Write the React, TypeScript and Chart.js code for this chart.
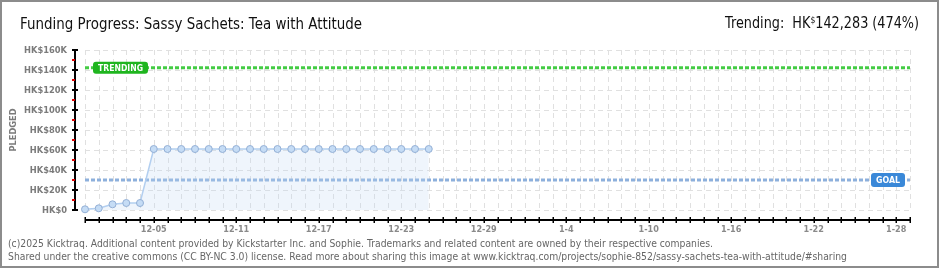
import { useEffect, useRef } from 'react';
import { Chart, registerables } from 'chart.js';

Chart.register(...registerables);

// ---- data ----
const dayLabels = [
  '11-30',
  '12-01', '12-02', '12-03', '12-04', '12-05', '12-06', '12-07', '12-08', '12-09', '12-10',
  '12-11', '12-12', '12-13', '12-14', '12-15', '12-16', '12-17', '12-18', '12-19', '12-20',
  '12-21', '12-22', '12-23', '12-24', '12-25', '12-26', '12-27', '12-28', '12-29', '12-30', '12-31',
  '1-1', '1-2', '1-3', '1-4', '1-5', '1-6', '1-7', '1-8', '1-9', '1-10',
  '1-11', '1-12', '1-13', '1-14', '1-15', '1-16', '1-17', '1-18', '1-19', '1-20',
  '1-21', '1-22', '1-23', '1-24', '1-25', '1-26', '1-27', '1-28', '1-29',
];
const pledgedValues = [
  700, 1700, 5700, 7000, 7000,
  61000, 61000, 61000, 61000, 61000, 61000, 61000, 61000, 61000, 61000, 61000,
  61000, 61000, 61000, 61000, 61000, 61000, 61000, 61000, 61000, 61000,
];
const goalValue = 30000;
const trendingValue = 142283;
const yTickValues = [0, 20000, 40000, 60000, 80000, 100000, 120000, 140000, 160000];
const yTickLabels = ['HK$0', 'HK$20K', 'HK$40K', 'HK$60K', 'HK$80K', 'HK$100K', 'HK$120K', 'HK$140K', 'HK$160K'];
const yMinorValues = [10000, 30000, 50000, 70000, 90000, 110000, 130000, 150000];
const xLabelDays = ['12-05', '12-11', '12-17', '12-23', '12-29', '1-4', '1-10', '1-16', '1-22', '1-28'];

const titleText = 'Funding Progress: Sassy Sachets: Tea with Attitude';
const trendPrefix = 'Trending:  HK';
const trendCurrency = '$';
const trendSuffix = '142,283 (474%)';
const footer1 = '(c)2025 Kicktraq. Additional content provided by Kickstarter Inc. and Sophie. Trademarks and related content are owned by their respective companies.';
const footer2 = 'Shared under the creative commons (CC BY-NC 3.0) license. Read more about sharing this image at www.kicktraq.com/projects/sophie-852/sassy-sachets-tea-with-attitude/#sharing';

const FONT = '"DejaVu Sans"';

function scaleFor(ctx: CanvasRenderingContext2D, text: string, font: string, w: number) {
  ctx.font = font;
  return w / ctx.measureText(text).width;
}

function drawScaled(
  ctx: CanvasRenderingContext2D, text: string, x: number, y: number, sx: number,
  font: string, color: string, align: 'left' | 'right' | 'center' = 'left'
) {
  ctx.save();
  ctx.font = font;
  ctx.fillStyle = color;
  ctx.textBaseline = 'alphabetic';
  ctx.textAlign = 'left';
  const w = ctx.measureText(text).width * sx;
  let x0 = x;
  if (align === 'right') x0 = x - w;
  if (align === 'center') x0 = x - w / 2;
  ctx.translate(x0, y);
  ctx.scale(sx, 1);
  ctx.fillText(text, 0, 0);
  ctx.restore();
}

function line(ctx: CanvasRenderingContext2D, x1: number, y1: number, x2: number, y2: number) {
  ctx.beginPath();
  ctx.moveTo(x1, y1);
  ctx.lineTo(x2, y2);
  ctx.stroke();
}

const decor = {
  id: 'decor',
  beforeDraw(chart: any) {
    const ctx: CanvasRenderingContext2D = chart.ctx;
    const xs = chart.scales.x;
    const ys = chart.scales.y;
    const { top, bottom, left, right } = chart.chartArea;
    ctx.save();
    ctx.fillStyle = '#ffffff';
    ctx.fillRect(0, 0, chart.width, chart.height);
    ctx.strokeStyle = '#e0e0e0';
    ctx.lineWidth = 1;
    ctx.setLineDash([5, 4]);
    for (let i = 0; i < dayLabels.length; i++) {
      const px = Math.round(xs.getPixelForValue(i)) + 0.5;
      line(ctx, px, top, px, bottom);
    }
    for (const v of yTickValues) {
      const py = Math.round(ys.getPixelForValue(v)) + 0.5;
      line(ctx, left, py, right, py);
    }
    ctx.restore();
  },
  afterDraw(chart: any) {
    const ctx: CanvasRenderingContext2D = chart.ctx;
    const xs = chart.scales.x;
    const ys = chart.scales.y;
    const { top, bottom, left, right } = chart.chartArea;
    ctx.save();
    ctx.setLineDash([]);

    // y axis
    const ax = left - 10;
    ctx.strokeStyle = '#000';
    ctx.lineWidth = 2;
    line(ctx, ax, top - 1, ax, bottom + 1);
    ctx.strokeStyle = '#e00000';
    for (const v of yMinorValues) {
      const py = Math.round(ys.getPixelForValue(v));
      line(ctx, ax - 3, py, ax, py);
    }
    ctx.strokeStyle = '#000';
    for (const v of yTickValues) {
      const py = Math.round(ys.getPixelForValue(v));
      line(ctx, ax - 3, py, ax + 3, py);
    }
    const yFont = `bold 9px ${FONT}`;
    const ySx = scaleFor(ctx, 'HK$160K', yFont, 43);
    yTickValues.forEach((v, i) => {
      const py = ys.getPixelForValue(v);
      drawScaled(ctx, yTickLabels[i], ax - 8, py + 3.4, ySx, yFont, '#7b7b7b', 'right');
    });
    // y title
    const tFont = `bold 9px ${FONT}`;
    const tSx = scaleFor(ctx, 'PLEDGED', tFont, 43);
    ctx.save();
    ctx.translate(16, (top + bottom) / 2);
    ctx.rotate(-Math.PI / 2);
    drawScaled(ctx, 'PLEDGED', 0, 0, tSx, tFont, '#7b7b7b', 'center');
    ctx.restore();

    // x axis
    const ay = bottom + 10;
    ctx.strokeStyle = '#000';
    ctx.lineWidth = 2;
    line(ctx, left, ay, right, ay);
    ctx.lineWidth = 1.5;
    for (let i = 0; i < dayLabels.length; i++) {
      const px = Math.round(xs.getPixelForValue(i)) + 0.25;
      line(ctx, px, ay - 3, px, ay + 3);
    }
    const xFont = `bold 9px ${FONT}`;
    const xSx = scaleFor(ctx, '12-05', xFont, 26);
    for (const lab of xLabelDays) {
      const idx = dayLabels.indexOf(lab);
      const px = xs.getPixelForValue(idx);
      drawScaled(ctx, lab, px, ay + 12, xSx, xFont, '#8a8a8a', 'center');
    }

    // TRENDING badge
    const tyPx = ys.getPixelForValue(trendingValue);
    ctx.fillStyle = '#1fb51f';
    ctx.beginPath();
    (ctx as any).roundRect(left + 8, tyPx - 6, 55, 12, 3);
    ctx.fill();
    const bFont = `bold 9px ${FONT}`;
    const bSx = scaleFor(ctx, 'TRENDING', bFont, 45);
    drawScaled(ctx, 'TRENDING', left + 35.5, tyPx + 3.4, bSx, bFont, '#ffffff', 'center');

    // GOAL badge
    const gyPx = ys.getPixelForValue(goalValue);
    ctx.fillStyle = '#3a88d8';
    ctx.beginPath();
    (ctx as any).roundRect(right - 39, gyPx - 7, 34, 14, 3);
    ctx.fill();
    const gSx = scaleFor(ctx, 'GOAL', bFont, 24);
    drawScaled(ctx, 'GOAL', right - 22, gyPx + 3.4, gSx, bFont, '#ffffff', 'center');

    // title
    const titleFont = `15px ${FONT}`;
    const ttSx = scaleFor(ctx, titleText, titleFont, 342);
    drawScaled(ctx, titleText, 20, 29, ttSx, titleFont, '#111111');

    // trending text
    const bigFont = `15px ${FONT}`;
    const smallFont = `9px ${FONT}`;
    ctx.font = bigFont;
    const wA = ctx.measureText(trendPrefix).width;
    const wC = ctx.measureText(trendSuffix).width;
    ctx.font = smallFont;
    const wB = ctx.measureText(trendCurrency).width;
    const trSx = 194 / (wA + wB + wC);
    let tx = 725;
    drawScaled(ctx, trendPrefix, tx, 28, trSx, bigFont, '#111111');
    tx += wA * trSx;
    drawScaled(ctx, trendCurrency, tx, 23, trSx, smallFont, '#111111');
    tx += wB * trSx;
    drawScaled(ctx, trendSuffix, tx, 28, trSx, bigFont, '#111111');

    // footer (one font scale for both lines)
    const fFont = `10px ${FONT}`;
    const fSx = scaleFor(ctx, footer1, fFont, 705);
    drawScaled(ctx, footer1, 8, 247, fSx, fFont, '#666666');
    drawScaled(ctx, footer2, 8, 260, fSx, fFont, '#666666');

    // frame
    ctx.strokeStyle = '#8c8c8c';
    ctx.lineWidth = 2;
    ctx.strokeRect(1, 1, 937, 266);
    ctx.restore();
  },
};

export default function App() {
  const ref = useRef<HTMLCanvasElement | null>(null);
  useEffect(() => {
    document.body.style.margin = '0';
    if (!ref.current) return;
    const chart = new Chart(ref.current, {
      type: 'line',
      data: {
        labels: dayLabels,
        datasets: [
          {
            data: pledgedValues,
            borderColor: '#b3cff0',
            borderWidth: 1.5,
            backgroundColor: 'rgba(190,215,245,0.25)',
            fill: 'origin',
            tension: 0,
            pointRadius: 3.5,
            pointBorderWidth: 1,
            pointBackgroundColor: '#c5dcf5',
            pointBorderColor: '#94b0d6',
            clip: false as any,
            order: 1,
          },
          {
            data: [
              { x: dayLabels[0], y: goalValue },
              { x: dayLabels[dayLabels.length - 1], y: goalValue },
            ] as any,
            borderColor: '#8db0dc',
            borderWidth: 3,
            borderDash: [4, 2],
            pointRadius: 0,
            fill: false,
            order: 2,
          },
          {
            data: [
              { x: dayLabels[0], y: trendingValue },
              { x: dayLabels[dayLabels.length - 1], y: trendingValue },
            ] as any,
            borderColor: '#44cc44',
            borderWidth: 3,
            borderDash: [4, 2],
            pointRadius: 0,
            fill: false,
            order: 3,
          },
        ],
      },
      options: {
        responsive: false,
        animation: false,
        devicePixelRatio: 1,
        events: [],
        layout: { padding: { left: 85, right: 30, top: 50, bottom: 60 } },
        plugins: { legend: { display: false }, tooltip: { enabled: false }, title: { display: false } },
        scales: {
          x: { type: 'category', display: false, offset: false },
          y: { type: 'linear', display: false, min: 0, max: 160000 },
        },
      },
      plugins: [decor],
    });
    return () => chart.destroy();
  }, []);
  return (
    <div style={{ width: 940, height: 270 }}>
      <canvas ref={ref} width={940} height={270} style={{ display: 'block' }} />
    </div>
  );
}
